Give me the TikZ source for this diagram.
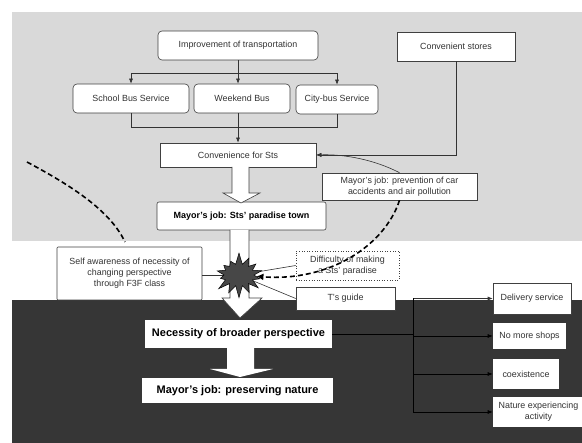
\documentclass[tikz,border=0pt]{standalone}
\usepackage{fontspec}
\setmainfont{Liberation Sans}
\usetikzlibrary{arrows.meta,shapes.symbols}
\definecolor{lightbg}{gray}{0.85}
\definecolor{darkbg}{gray}{0.21}
\tikzset{
  box/.style={draw=black!75, fill=white, line width=0.6pt, font=\fontsize{8.9}{11}\selectfont,
    text=black!80, align=center, inner sep=1pt},
  rbox/.style={box, rounded corners=4pt},
  bigbold/.style={fill=white, font=\bfseries\fontsize{11}{13}\selectfont, inner sep=1pt, text=black},
  conn/.style={draw=black!80, line width=0.6pt},
  arr/.style={conn, -{Latex[length=5pt,width=4pt]}},
  darkconn/.style={draw=black, line width=0.6pt},
  darkarr/.style={darkconn, -{Latex[length=5pt,width=4pt]}},
  thickdash/.style={draw=black, line width=1.6pt, dash pattern=on 5pt off 3pt},
  hollow/.style={draw=black!75, fill=white, line width=0.6pt},
}
\begin{document}
\begin{tikzpicture}[x=1pt,y=-1pt]
\useasboundingbox (0,0) rectangle (582,443);
% backgrounds
\fill[lightbg] (12,12) rectangle (582,241);
\fill[darkbg] (12,300) rectangle (582,443);

% top boxes
\node[rbox, minimum width=160pt, minimum height=29pt] (imp) at (238,45.5) {Improvement of transportation};
\node[box, minimum width=118pt, minimum height=29pt] (stores) at (456,46.5) {Convenient stores};
\node[rbox, minimum width=116pt, minimum height=29pt] (school) at (131,98.5) {School Bus Service};
\node[rbox, minimum width=96pt, minimum height=29pt] (weekend) at (242,98.5) {Weekend Bus};
\node[rbox, minimum width=82pt, minimum height=29pt] (city) at (337,99.5) {City-bus Service};
\node[box, minimum width=156pt, minimum height=24pt] (conv) at (238,155) {Convenience for Sts};
\node[box, minimum width=155pt, minimum height=27pt] (prev) at (399.5,186.5) {Mayor's job: prevention of car\\accidents and air pollution};
\node[box, rounded corners=2pt, minimum width=169pt, minimum height=28pt,
      font=\bfseries\fontsize{9}{11}\selectfont, text=black] (paradise) at (241.5,216) {Mayor's job: Sts' paradise town};

% tree connectors
\coordinate (bus) at (238,73);
\coordinate (join) at (238,127);
\draw[conn] (imp.south -| bus) -- (bus);
\draw[arr] (bus) -| (school.north);
\draw[arr] (bus) -| (city.north);
\draw[arr] (bus) -- (bus |- weekend.north);
\draw[conn] (school.south) |- (join);
\draw[conn] (city.south) |- (join);
\draw[arr] (weekend.south -| join) -- (conv.north -| join);
\draw[arr] (stores.south) |- (conv.east);
\draw[arr] (prev.north) .. controls (375,160) and (345,154) .. (conv.east);

% hollow arrow conv -> paradise
\draw[hollow] (232,167) -- (232,193) -- (223,193) -- (241,203) -- (260,193) -- (249,193) -- (249,167);

% lower hollow arrow paradise -> necessity
\draw[hollow] (230,230) -- (230,298) -- (222,298) -- (240,318) -- (262,298) -- (249,298) -- (249,230);

% middle boxes
\node[box, rounded corners=1pt, minimum width=145pt, minimum height=53pt] (self) at (129.5,273.5)
  {Self awareness of necessity of\\changing perspective\\through F3F class};
\node[box, dotted, minimum width=103pt, minimum height=29pt] (diff) at (347.5,265.5) {Difficulty of making\\a Sts' paradise};
\node[box, minimum width=99pt, minimum height=23pt] (tguide) at (345.5,298.5) {T's guide};

\coordinate (starc) at (239,275);
\draw[conn] (starc) -- (self.east |- starc);
\draw[conn] (starc) -- (diff.west);
\draw[conn] (starc) -- (tguide.west);

\node[starburst, draw=black, fill=black!72, line width=0.5pt, minimum width=54pt, minimum height=46pt,
      starburst points=14, starburst point height=12pt, random starburst=7] (star) at (starc) {};

% dashed curves
\draw[thickdash, -{Latex[length=7pt,width=7pt]}] (prev.south) .. controls (385,245) and (330,282) .. (star);
\coordinate (dA) at (27,162);
\coordinate (dB) at (125,242);
\draw[thickdash] (dA) .. controls (70,185) and (110,210) .. (dB);

% dark region
\draw[fill=white, draw=none] (227,348) -- (227,369) -- (210,369) -- (240,377) -- (273,369) -- (254,369) -- (254,348) -- cycle;
\node[bigbold, minimum width=187pt, minimum height=28pt] (necessity) at (238.5,334) {Necessity of broader perspective};
\node[bigbold, minimum width=191pt, minimum height=25pt] (preserve) at (237.5,390.5) {Mayor's job: preserving nature};

\node[box, minimum width=78pt, minimum height=31pt] (delivery) at (532,298.5) {Delivery service};
\node[box, draw=none, minimum width=73pt, minimum height=26pt] (noshops) at (529.5,336) {No more shops};
\node[box, draw=none, minimum width=66pt, minimum height=30pt] (coex) at (526,374) {coexistence};
\node[box, draw=none, minimum width=91pt, minimum height=30pt] (nature) at (538.5,412) {Nature experiencing\\activity};

\coordinate (trunk) at (413,298.5);
\coordinate (trunkend) at (413,412);
\draw[arr] (trunk) -- (delivery.west);
\draw[darkconn] (trunk) -- (trunkend);
\draw[darkconn] (necessity.east) -- (necessity.east -| trunk);
\draw[darkarr] (noshops.west -| trunk) -- (noshops.west);
\draw[darkarr] (coex.west -| trunk) -- (coex.west);
\draw[darkarr] (trunkend) -- (nature.west);
\end{tikzpicture}
\end{document}
